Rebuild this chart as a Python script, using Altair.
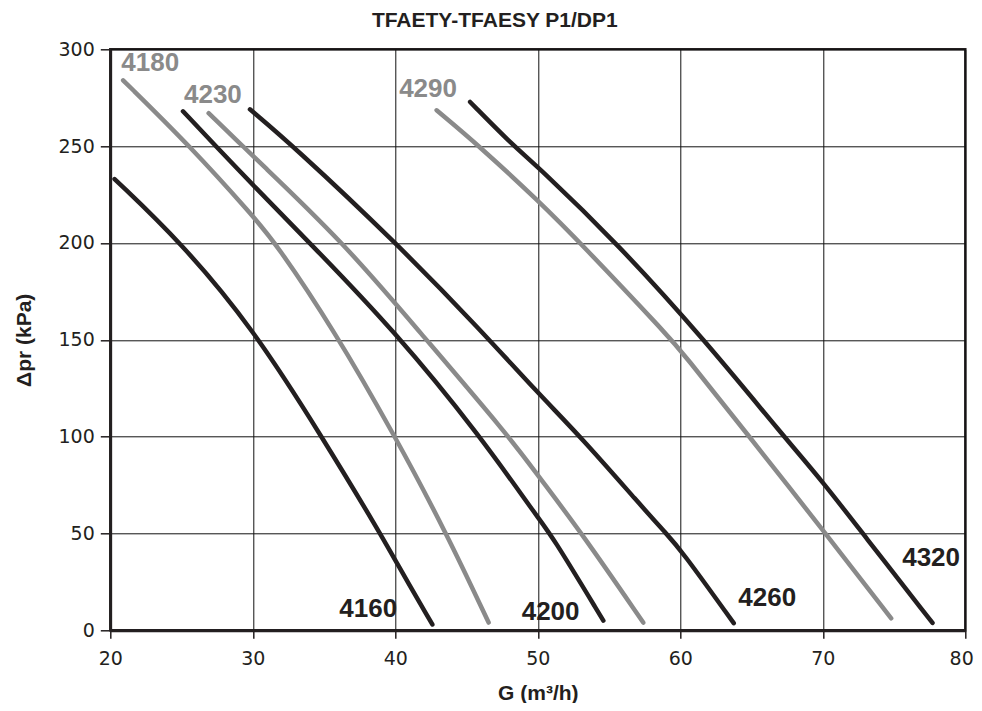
import altair as alt
import pandas as pd

# ---- data ----
models = ["4160", "4180", "4200", "4230", "4260", "4290", "4320"]

g_4160 = [20.3, 25.0, 30.0, 34.85, 38.95, 40.0, 42.6]
p_4160 = [233, 200, 156, 100, 50, 36, 3]

g_4180 = [20.9, 25.6, 30.0, 31.6, 35.7, 40.0, 43.6, 46.55]
p_4180 = [284, 250, 214, 200, 155, 100, 50, 4]

g_4200 = [25.1, 27.4, 30.0, 34.0, 39.9, 46.0, 50.0, 50.9, 54.6]
p_4200 = [268, 250, 230, 200, 155, 100, 58, 50, 5]

g_4230 = [26.9, 29.3, 30.0, 36.4, 41.6, 48.0, 50.0, 53.1, 57.4]
p_4230 = [267, 250, 245, 200, 155, 100, 80, 50, 4]

g_4260 = [29.8, 32.85, 40.0, 46.0, 50.0, 53.0, 57.2, 59.0, 60.0, 63.75]
p_4260 = [269, 250, 200.5, 155, 122.5, 100, 64.7, 50, 42, 3.7]

g_4290 = [42.9, 45.9, 50.0, 53.0, 59.4, 60.0, 64.85, 70.0, 74.8]
p_4290 = [268.5, 250, 222, 200, 150, 144.7, 100, 51.8, 6.2]

g_4320 = [45.25, 48.3, 50.0, 55.55, 61.7, 67.27, 70.0, 72.8, 77.7]
p_4320 = [272.8, 250, 239.5, 200, 150, 100, 76.7, 50, 3.8]

label_models = ["4160", "4180", "4200", "4230", "4260", "4290", "4320"]
label_g = [38.1, 22.8, 50.9, 27.2, 66.1, 42.3, 77.6]
label_p = [10.8, 293.0, 9.6, 276.3, 16.5, 279.3, 37.2]

x_ticks = [20, 30, 40, 50, 60, 70, 80]
y_ticks = [0, 50, 100, 150, 200, 250, 300]

chart_title = "TFAETY-TFAESY P1/DP1"

# ---- build tables ----
series = {
    "4160": (g_4160, p_4160),
    "4180": (g_4180, p_4180),
    "4200": (g_4200, p_4200),
    "4230": (g_4230, p_4230),
    "4260": (g_4260, p_4260),
    "4290": (g_4290, p_4290),
    "4320": (g_4320, p_4320),
}
rows = []
for m, (gs, ps) in series.items():
    for i, (g, p) in enumerate(zip(gs, ps)):
        rows.append({"model": m, "G": g, "dp": p, "i": i})
df = pd.DataFrame(rows)
labels_df = pd.DataFrame({"model": label_models, "G": label_g, "dp": label_p})

BLACK = "#231f20"
GRAY = "#8a8a8a"
color_scale = alt.Scale(
    domain=models,
    range=[BLACK, GRAY, BLACK, GRAY, BLACK, GRAY, BLACK],
)

x_scale = alt.Scale(domain=[20, 80], nice=False, zero=False)
y_scale = alt.Scale(domain=[0, 300], nice=False)

last_x = x_ticks[-1]
x_axis = alt.Axis(
    values=x_ticks,
    title="G (m³/h)",
    grid=True,
    tickSize=8,
    labelPadding=11,
    labelFlush=False,
    # keep the last tick label inside the page edge
    labelAlign=alt.condition(f"datum.value == {last_x}", alt.value("right"), alt.value("center")),
    labelOffset=alt.condition(f"datum.value == {last_x}", alt.value(8), alt.value(0)),
    titleY=69,
    titleBaseline="alphabetic",
)
y_axis = alt.Axis(
    values=y_ticks,
    title="Δpr (kPa)",
    grid=True,
    tickSize=10,
    labelPadding=6,
    labelFlush=False,
    titleX=-80,
    titleY=290.5,
    titleAngle=-90,
    titleAlign="center",
    titleBaseline="alphabetic",
)
# a label-less top axis that carries the chart title
top_axis = alt.Axis(
    orient="top",
    title=chart_title,
    labels=False,
    ticks=False,
    domain=False,
    grid=False,
    titleX=384,
    titleY=-22.6,
    titleAlign="center",
    titleBaseline="alphabetic",
    titleFontSize=21,
)

lines = alt.Chart(df).mark_line(
    strokeWidth=4.5, strokeCap="round", strokeJoin="round", interpolate="basis"
).encode(
    x=alt.X("G:Q", scale=x_scale, axis=x_axis),
    y=alt.Y("dp:Q", scale=y_scale, axis=y_axis),
    color=alt.Color("model:N", scale=color_scale, legend=None),
    detail="model:N",
    order="i:Q",
)

texts = alt.Chart(labels_df).mark_text(
    font="Liberation Sans", fontSize=26, fontWeight="bold",
    align="center", baseline="middle",
).encode(
    x=alt.X("G:Q", scale=x_scale, axis=top_axis),
    y=alt.Y("dp:Q", scale=y_scale, axis=None),
    text="model:N",
    color=alt.Color("model:N", scale=color_scale, legend=None),
)

chart = alt.layer(lines, texts).resolve_axis(
    x="independent", y="independent"
).properties(
    width=855,
    height=581,
    autosize=alt.AutoSizeParams(type="none"),
    padding={"left": 102.3, "top": 41.3, "right": 8.7, "bottom": 72.7},
    background="white",
).configure_view(
    stroke=BLACK, strokeWidth=2.5
).configure_axis(
    labelFont="DejaVu Sans",
    labelFontSize=19,
    labelColor=BLACK,
    labelFontWeight="normal",
    titleFont="Liberation Sans",
    titleFontSize=21,
    titleFontWeight="bold",
    titleColor=BLACK,
    domainColor=BLACK,
    domainWidth=2.7,
    tickColor=BLACK,
    tickWidth=1.5,
    gridColor="#111111",
    gridWidth=1,
    gridOpacity=1,
)

chart.save("out.html", embed_options={"renderer": "svg", "actions": False})
